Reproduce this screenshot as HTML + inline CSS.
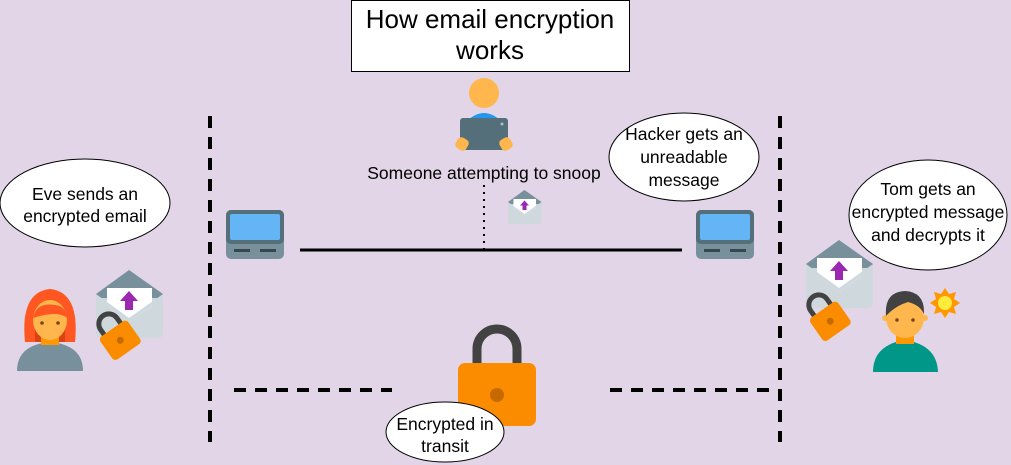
<!DOCTYPE html>
<html><head><meta charset="utf-8"><style>
html,body{margin:0;padding:0;background:#e1d5e7}
svg{display:block}
text{font-family:"Liberation Sans",Arial,sans-serif;fill:#000}
</style></head><body>
<svg width="1011" height="465" viewBox="0 0 1011 465" xmlns="http://www.w3.org/2000/svg">
<defs>
<g id="env">
 <path d="M0,24 L33,0 L67,24 L67,62 Q67,68 61,68 L6,68 Q0,68 0,62 Z" fill="#cfd8dc"/>
 <path d="M0,24 L33,0 L67,24 L67,28 L0,28 Z" fill="#78909c"/>
 <path d="M11,18 L56,18 L56,36 L33,52 L11,36 Z" fill="#fff"/>
 <path d="M0,28 L33,52 L67,28 L67,24 L33,48 L0,24 Z" fill="#cfd8dc"/>
 <path d="M33,21 L42,31 L37,31 L37,40 L29,40 L29,31 L24,31 Z" fill="#9c27b0"/>
</g>
<g id="lap">
 <rect x="0" y="0" width="58" height="49" rx="5" fill="#78909c"/>
 <rect x="0" y="0" width="58" height="34" rx="5" fill="#546e7a"/>
 <rect x="4" y="4" width="50" height="26" rx="2" fill="#64b5f6"/>
 <rect x="8" y="39" width="16" height="3" fill="#37474f"/>
 <rect x="34" y="39" width="16" height="3" fill="#37474f"/>
</g>
<g id="smlock">
 <path d="M-10,-8 L-10,-16 A10,10 0 0 1 10,-16 L10,-8" fill="none" stroke="#424242" stroke-width="5"/>
 <rect x="-17" y="-10" width="34" height="28" rx="4" fill="#fb8c00"/>
 <circle cx="0" cy="4" r="3.5" fill="#c66a00"/>
</g>
</defs>
<rect width="1011" height="465" fill="#e1d5e7"/>
<rect x="351.5" y="0.5" width="278" height="71" fill="#fff" stroke="#000"/>
<text x="490" y="28" font-size="26" text-anchor="middle">How email encryption</text>
<text x="490" y="59" font-size="26" text-anchor="middle">works</text>
<g stroke="#000" stroke-width="4" stroke-dasharray="12,9" fill="none">
 <line x1="210" y1="116" x2="210" y2="442"/>
 <line x1="780" y1="116" x2="780" y2="442"/>
 <line x1="234" y1="390" x2="392" y2="390"/>
 <line x1="610" y1="390" x2="772" y2="390"/>
</g>
<line x1="300" y1="250" x2="682" y2="250" stroke="#000" stroke-width="3"/>
<line x1="484" y1="185" x2="484" y2="250" stroke="#000" stroke-width="2" stroke-dasharray="2,5"/>
<circle cx="484" cy="93" r="15" fill="#ffb74d"/>
<path d="M466,122 Q484,104 502,122 Z" fill="#2196f3"/>
<rect x="460" y="118" width="48" height="32" rx="3" fill="#546e7a"/>
<circle cx="502" cy="124" r="1.5" fill="#b0bec5"/>
<rect x="456" y="138" width="12" height="12" rx="4" fill="#ffb74d" transform="rotate(30 462 144)"/>
<rect x="500" y="138" width="12" height="12" rx="4" fill="#ffb74d" transform="rotate(-30 506 144)"/>
<text x="484" y="179" font-size="17.5" text-anchor="middle">Someone attempting to snoop</text>
<use href="#env" transform="translate(508,190) scale(0.5)"/>
<use href="#lap" x="226" y="210"/>
<use href="#lap" x="696" y="210"/>
<path d="M477,366 L477,349 A20,20 0 0 1 517,349 L517,366" fill="none" stroke="#424242" stroke-width="9"/>
<rect x="458" y="363" width="78" height="63" rx="7" fill="#fb8c00"/>
<circle cx="497" cy="395" r="7" fill="#c66a00"/>
<ellipse cx="445" cy="432" rx="59" ry="30" fill="#fff" stroke="#000"/>
<text x="445" y="430" font-size="17.5" text-anchor="middle">Encrypted in</text>
<text x="445" y="452" font-size="17.5" text-anchor="middle">transit</text>
<ellipse cx="85" cy="203" rx="85" ry="44" fill="#fff" stroke="#000"/>
<text x="85" y="200" font-size="17.5" text-anchor="middle">Eve sends an</text>
<text x="85" y="222" font-size="17.5" text-anchor="middle">encrypted email</text>
<ellipse cx="684" cy="157" rx="75" ry="44" fill="#fff" stroke="#000"/>
<text x="684" y="140" font-size="17.5" text-anchor="middle">Hacker gets an</text>
<text x="684" y="163" font-size="17.5" text-anchor="middle">unreadable</text>
<text x="684" y="186" font-size="17.5" text-anchor="middle">message</text>
<ellipse cx="928" cy="215" rx="79" ry="55" fill="#fff" stroke="#000"/>
<text x="928" y="195" font-size="17.5" text-anchor="middle">Tom gets an</text>
<text x="928" y="218" font-size="17.5" text-anchor="middle">encrypted message</text>
<text x="928" y="241" font-size="17.5" text-anchor="middle">and decrypts it</text>
<path d="M25,342 Q20,292 50,289 Q80,292 75,342 Z" fill="#ff5722"/>
<rect x="35" y="312" width="30" height="30" fill="#bf360c" opacity="0.6"/>
<path d="M17,371 Q17,345 50,342 Q83,345 83,371 Z" fill="#78909c"/>
<rect x="41" y="330" width="18" height="15" fill="#ff9800"/>
<ellipse cx="50" cy="320" rx="17" ry="20" fill="#ffb74d"/>
<path d="M33,318 Q36,302 55,305 Q66,306 67,318 Q58,310 33,318 Z" fill="#ff5722"/>
<circle cx="42" cy="323" r="1.8" fill="#784719"/>
<circle cx="58" cy="323" r="1.8" fill="#784719"/>
<use href="#env" x="96" y="270"/>
<use href="#smlock" transform="translate(118,337) rotate(-35)"/>
<use href="#env" x="806" y="240"/>
<use href="#smlock" transform="translate(828,318) rotate(-35)"/>
<path d="M873,372 Q873,345 905,340 Q937,345 938,372 Z" fill="#009688"/>
<rect x="896" y="330" width="18" height="14" fill="#ff9800"/>
<ellipse cx="905" cy="318" rx="19" ry="20" fill="#ffb74d"/>
<circle cx="885" cy="318" r="3" fill="#ffb74d"/>
<circle cx="925" cy="318" r="3" fill="#ffb74d"/>
<path d="M886,316 Q884,292 905,291 Q925,292 924,314 Q920,305 908,302 Q895,306 886,316 Z" fill="#424242"/>
<circle cx="897" cy="320" r="1.8" fill="#784719"/>
<circle cx="913" cy="320" r="1.8" fill="#784719"/>
<g transform="translate(945,303)">
 <polygon points="0,-15 4,-9 11,-11 9,-4 15,0 9,4 11,11 4,9 0,15 -4,9 -11,11 -9,4 -15,0 -9,-4 -11,-11 -4,-9" fill="#ff9800"/>
 <circle r="7" fill="#ffeb3b"/>
</g>
</svg>
</body></html>
